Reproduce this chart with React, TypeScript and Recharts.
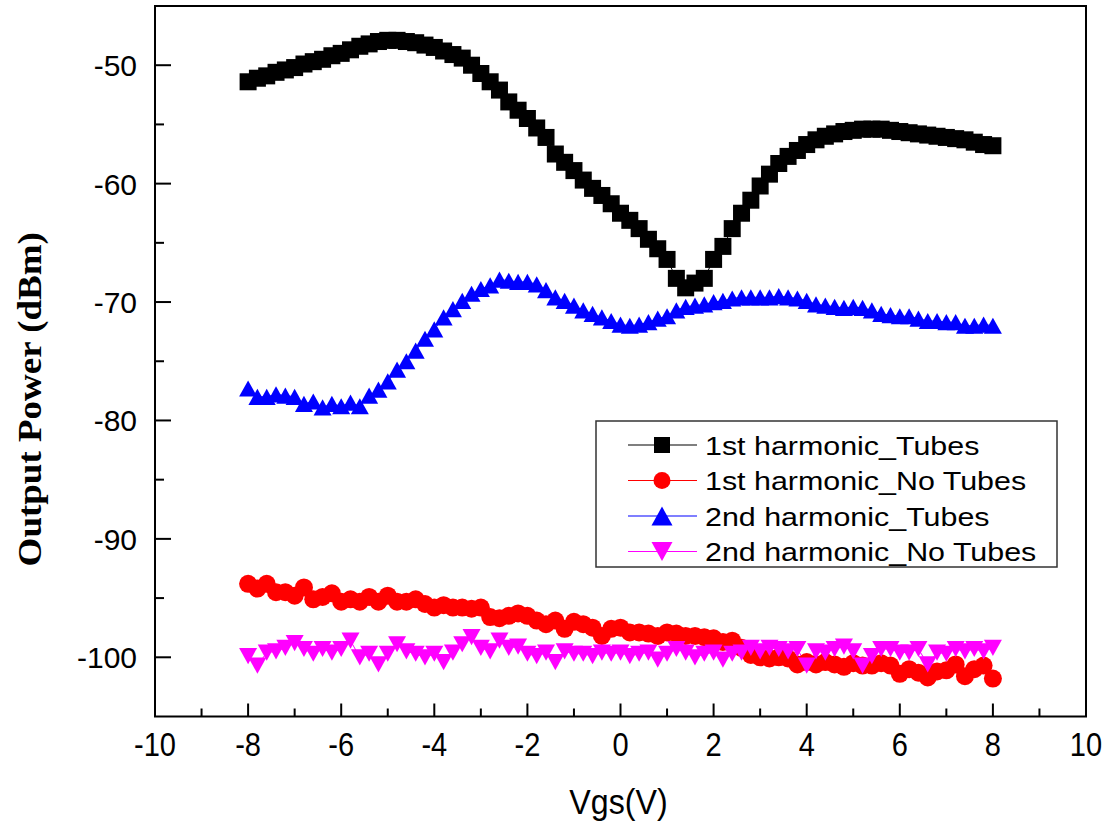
import React from 'react';
import { LineChart, Line, XAxis, YAxis, ReferenceArea, Legend } from 'recharts';

// Gate voltage sweep (V)
const vgs = [
  -8.0, -7.8, -7.6, -7.4, -7.2, -7.0, -6.8, -6.6, -6.4, -6.2,
  -6.0, -5.8, -5.6, -5.4, -5.2, -5.0, -4.8, -4.6, -4.4, -4.2,
  -4.0, -3.8, -3.6, -3.4, -3.2, -3.0, -2.8, -2.6, -2.4, -2.2,
  -2.0, -1.8, -1.6, -1.4, -1.2, -1.0, -0.8, -0.6, -0.4, -0.2,
  0.0, 0.2, 0.4, 0.6, 0.8, 1.0, 1.2, 1.4, 1.6, 1.8,
  2.0, 2.2, 2.4, 2.6, 2.8, 3.0, 3.2, 3.4, 3.6, 3.8,
  4.0, 4.2, 4.4, 4.6, 4.8, 5.0, 5.2, 5.4, 5.6, 5.8,
  6.0, 6.2, 6.4, 6.6, 6.8, 7.0, 7.2, 7.4, 7.6, 7.8,
  8.0,
];

// Output power (dBm)
const firstTubes = [
  -51.4, -51.1, -50.9, -50.6, -50.4, -50.2, -49.9, -49.7, -49.5, -49.2,
  -49.0, -48.7, -48.4, -48.2, -48.0, -47.9, -47.9, -48.0, -48.1, -48.3,
  -48.5, -48.8, -49.1, -49.4, -50.0, -50.7, -51.4, -52.1, -53.1, -53.8,
  -54.5, -55.3, -56.1, -57.5, -58.2, -58.9, -59.7, -60.4, -61.0, -61.7,
  -62.5, -63.1, -63.8, -64.7, -65.5, -66.4, -68.0, -68.8, -68.4, -68.0,
  -66.4, -65.3, -63.8, -62.5, -61.4, -60.2, -59.2, -58.3, -57.7, -57.2,
  -56.7, -56.3, -56.0, -55.8, -55.6, -55.5, -55.4, -55.4, -55.4, -55.5,
  -55.6, -55.7, -55.8, -55.9, -56.0, -56.1, -56.2, -56.3, -56.5, -56.7,
  -56.8,
];

const firstNoTubes = [
  -93.8, -94.2, -93.8, -94.5, -94.5, -94.8, -94.1, -95.1, -94.9, -94.6,
  -95.3, -95.1, -95.3, -94.9, -95.3, -94.8, -95.3, -95.3, -95.1, -95.5,
  -95.8, -95.6, -95.8, -95.8, -95.9, -95.8, -96.6, -96.7, -96.5, -96.3,
  -96.5, -96.9, -97.2, -96.9, -97.6, -97.0, -97.2, -97.5, -98.2, -97.6,
  -97.5, -97.9, -97.9, -98.0, -98.2, -97.9, -98.0, -98.2, -98.2, -98.3,
  -98.4, -98.7, -98.6, -99.2, -99.8, -100.0, -100.1, -100.0, -100.1, -100.6,
  -100.4, -100.6, -100.4, -100.6, -100.8, -100.5, -100.7, -100.7, -100.5, -100.7,
  -101.4, -101.0, -101.3, -101.7, -101.2, -101.1, -100.6, -101.6, -101.0, -100.7,
  -101.8,
];

const secondTubes = [
  -77.3, -78.0, -78.0, -77.8, -77.9, -78.0, -78.6, -78.4, -78.9, -78.6,
  -78.8, -78.5, -78.8, -77.9, -77.4, -76.7, -75.7, -75.0, -74.1, -73.1,
  -72.3, -71.3, -70.6, -69.9, -69.3, -68.9, -68.6, -68.1, -68.2, -68.3,
  -68.3, -68.5, -69.0, -69.6, -69.9, -70.3, -70.7, -71.0, -71.3, -71.6,
  -71.9, -72.0, -71.9, -71.7, -71.4, -71.2, -70.7, -70.4, -70.3, -70.2,
  -70.0, -69.9, -69.7, -69.6, -69.6, -69.6, -69.6, -69.5, -69.6, -69.7,
  -69.9, -70.2, -70.3, -70.4, -70.5, -70.4, -70.5, -70.7, -71.0, -71.1,
  -71.2, -71.2, -71.4, -71.6, -71.6, -71.7, -71.7, -72.0, -72.0, -71.9,
  -72.0,
];

const secondNoTubes = [
  -99.9, -100.7, -99.6, -99.5, -99.2, -98.8, -99.3, -99.7, -99.3, -99.6,
  -99.3, -98.6, -100.0, -99.7, -100.6, -99.7, -98.9, -99.5, -99.7, -100.0,
  -99.7, -100.4, -99.6, -98.9, -98.3, -99.2, -99.5, -98.6, -99.2, -99.1,
  -99.7, -99.9, -99.6, -100.4, -99.5, -99.7, -99.7, -99.9, -99.6, -99.7,
  -99.6, -99.9, -99.7, -99.6, -100.2, -99.7, -99.3, -99.6, -100.0, -99.7,
  -99.6, -100.2, -99.7, -99.6, -99.2, -99.5, -99.2, -99.3, -99.5, -99.3,
  -100.7, -99.5, -99.6, -99.3, -99.1, -99.5, -100.7, -99.9, -99.3, -99.3,
  -99.6, -99.6, -99.3, -100.6, -99.6, -99.7, -99.3, -99.5, -99.3, -99.5,
  -99.2,
];

const xTicks = [-10, -9, -8, -7, -6, -5, -4, -3, -2, -1, 0, 1, 2, 3, 4, 5, 6, 7, 8, 9, 10];
const yTicks = [-105, -100, -95, -90, -85, -80, -75, -70, -65, -60, -55, -50, -45];

const seriesNames = [
  '1st harmonic_Tubes',
  '1st harmonic_No Tubes',
  '2nd harmonic_Tubes',
  '2nd harmonic_No Tubes',
];

const data = vgs.map((x, i) => ({
  x,
  a: firstTubes[i],
  b: firstNoTubes[i],
  c: secondTubes[i],
  d: secondNoTubes[i],
}));

const SANS = '"Liberation Sans", Arial, sans-serif';
const SERIF = '"Liberation Serif", "Times New Roman", serif';

type Shape = 'square' | 'circle' | 'up' | 'down';

function Marker({ shape, cx, cy, size, color }: { shape: Shape; cx: number; cy: number; size: number; color: string }) {
  const h = size / 2;
  if (shape === 'square') {
    return <rect x={cx - h} y={cy - h} width={size} height={size} fill={color} />;
  }
  if (shape === 'circle') {
    return <circle cx={cx} cy={cy} r={h} fill={color} />;
  }
  if (shape === 'up') {
    const th = size * 0.9;
    return <polygon points={`${cx},${cy - th / 2} ${cx - h},${cy + th / 2} ${cx + h},${cy + th / 2}`} fill={color} />;
  }
  const th = size * 0.9;
  return <polygon points={`${cx},${cy + th / 2} ${cx - h},${cy - th / 2} ${cx + h},${cy - th / 2}`} fill={color} />;
}

const makeDot = (shape: Shape, color: string, size: number) => (props: any) => {
  const { cx, cy, index } = props;
  if (cx == null || cy == null) return <g key={`${shape}-${index}`} />;
  return (
    <g key={`${shape}-${index}`}>
      <Marker shape={shape} cx={cx} cy={cy} size={size} color={color} />
    </g>
  );
};

const XTick = (props: any) => {
  const { x, y, payload } = props;
  const v = payload.value as number;
  const major = v % 2 === 0;
  return (
    <g>
      <line x1={x} x2={x} y1={y} y2={y - (major ? 13 : 8)} stroke="#000" strokeWidth={2} />
      {major && (
        <g transform={`translate(${x}, ${y + 39}) scale(0.88, 1)`}>
          <text x={0} y={0} textAnchor="middle" fontSize={33} fontFamily={SANS} fill="#000">
            {v}
          </text>
        </g>
      )}
    </g>
  );
};

const YTick = (props: any) => {
  const { x, y, payload } = props;
  const v = payload.value as number;
  const major = v % 10 === 0;
  const edge = v === -105 || v === -45;
  return (
    <g>
      {!edge && <line x1={x} x2={x + (major ? 16 : 9)} y1={y} y2={y} stroke="#000" strokeWidth={2} />}
      {major && !edge && (
        <text x={x - 18} y={y + 11} textAnchor="end" fontSize={30} fontFamily={SANS} fill="#000">
          {v}
        </text>
      )}
    </g>
  );
};

const legendRows: { shape: Shape; color: string; size: number }[] = [
  { shape: 'square', color: '#000000', size: 16 },
  { shape: 'circle', color: '#FF0000', size: 17 },
  { shape: 'up', color: '#0000FF', size: 21 },
  { shape: 'down', color: '#FF00FF', size: 21 },
];

const renderLegend = () => (
  <svg width={464} height={150} style={{ display: 'block' }}>
    <rect x={1} y={1} width={461} height={146} fill="#fff" stroke="#333" strokeWidth={1.5} />
    {legendRows.map((r, i) => {
      const cy = 25 + i * 35.5;
      return (
        <g key={seriesNames[i]}>
          <line x1={33} x2={102} y1={cy} y2={cy} stroke={r.color} strokeWidth={1.2} />
          <Marker shape={r.shape} cx={67} cy={cy} size={r.size} color={r.color} />
          <g transform={`translate(110, ${cy + 9.5}) scale(1.17, 1)`}>
            <text x={0} y={0} fontSize={26} fontFamily={SANS} fill="#000">
              {seriesNames[i]}
            </text>
          </g>
        </g>
      );
    })}
  </svg>
);

export default function App() {
  return (
    <div style={{ position: 'absolute', left: 0, top: 0, background: '#fff' }}>
      <LineChart
        width={1112}
        height={823}
        data={data}
        margin={{ top: 6, right: 26, bottom: 46.5, left: 55 }}
      >
        <XAxis
          type="number"
          dataKey="x"
          domain={[-10, 10]}
          ticks={xTicks}
          interval={0}
          height={60}
          axisLine={false}
          tickLine={false}
          tickSize={0}
          tickMargin={0}
          tick={<XTick />}
          label={{
            content: (p: any) => {
              const vb = p.viewBox || { x: 155, width: 931, y: 716.5 };
              const cx = vb.x + vb.width / 2 - 2;
              return (
                <g transform={`translate(${cx}, ${vb.y + 97}) scale(0.92, 1)`}>
                  <text x={0} y={0} textAnchor="middle" fontSize={35} fontFamily={SANS} fill="#000">
                    Vgs(V)
                  </text>
                </g>
              );
            },
          }}
        />
        <YAxis
          type="number"
          domain={[-105, -45]}
          ticks={yTicks}
          interval={0}
          width={100}
          axisLine={false}
          tickLine={false}
          tickSize={0}
          tickMargin={0}
          tick={<YTick />}
          label={{
            content: (p: any) => {
              const vb = p.viewBox || { x: 55, y: 6, height: 710 };
              const cx = vb.x - 25;
              const cy = vb.y + vb.height / 2 + 38;
              return (
                <g transform={`translate(${cx}, ${cy}) rotate(-90) scale(1, 0.9)`}>
                  <text
                    x={0}
                    y={0}
                    textAnchor="middle"
                    dominantBaseline="central"
                    fontSize={37}
                    fontWeight="bold"
                    fontFamily={SERIF}
                    fill="#000"
                  >
                    Output Power (dBm)
                  </text>
                </g>
              );
            },
          }}
        />
        <ReferenceArea x1={-10} x2={10} y1={-105} y2={-45} fill="none" stroke="#000" strokeWidth={2} />
        <Line
          dataKey="a"
          name={seriesNames[0]}
          stroke="#000000"
          strokeWidth={1}
          type="linear"
          isAnimationActive={false}
          dot={makeDot('square', '#000000', 17)}
        />
        <Line
          dataKey="b"
          name={seriesNames[1]}
          stroke="#FF0000"
          strokeWidth={1}
          type="linear"
          isAnimationActive={false}
          dot={makeDot('circle', '#FF0000', 18)}
        />
        <Line
          dataKey="c"
          name={seriesNames[2]}
          stroke="#0000FF"
          strokeWidth={1}
          type="linear"
          isAnimationActive={false}
          dot={makeDot('up', '#0000FF', 18)}
        />
        <Line
          dataKey="d"
          name={seriesNames[3]}
          stroke="#FF00FF"
          strokeWidth={1}
          type="linear"
          isAnimationActive={false}
          dot={makeDot('down', '#FF00FF', 18)}
        />
        <Legend
          layout="horizontal"
          verticalAlign="middle"
          align="center"
          content={renderLegend}
          wrapperStyle={{ left: 595, top: 420, width: 464, height: 150 }}
        />
      </LineChart>
    </div>
  );
}
